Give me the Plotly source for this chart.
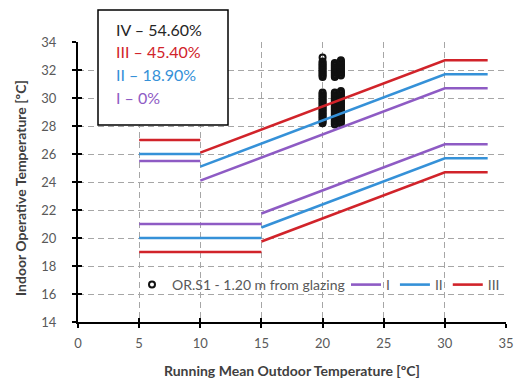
import plotly.graph_objects as go

# ---- data ----
categories = ["I", "II", "III"]
cat_colors = ["#8e5bc4", "#3591d8", "#d1232a"]

# upper limits
upper_flat_x = [5, 10]
upper_flat_y = [25.5, 26.0, 27.0]          # per category
upper_slope_x = [10, 30, 33.5]
upper_slope_y = [[24.1, 30.7, 30.7],
                 [25.1, 31.7, 31.7],
                 [26.1, 32.7, 32.7]]
# lower limits
lower_flat_x = [5, 15]
lower_flat_y = [21.0, 20.0, 19.0]
lower_slope_x = [15, 30, 33.5]
lower_slope_y = [[21.75, 26.7, 26.7],
                 [20.75, 25.7, 25.7],
                 [19.75, 24.7, 24.7]]

# measured points OR.S1 (running mean outdoor temp, indoor operative temp)
obs_x_20 = [20.0] * 36
obs_y_20 = [31.5, 31.6, 31.7, 31.8, 31.9, 32.0, 32.1, 32.2, 32.3, 32.4, 32.5, 32.6, 32.9,
            28.2, 28.3, 28.4, 28.5, 28.6, 28.7, 28.8, 28.9, 29.0, 29.1, 29.2, 29.3, 29.4,
            29.5, 29.6, 29.7, 29.8, 29.9, 30.0, 30.1, 30.2, 30.3, 30.4]
obs_x_21 = [21.0] * 35
obs_y_21 = [31.5, 31.6, 31.7, 31.8, 31.9, 32.0, 32.1, 32.2, 32.3, 32.4, 32.5,
            28.1, 28.2, 28.3, 28.4, 28.5, 28.6, 28.7, 28.8, 28.9, 29.0, 29.1, 29.2, 29.3,
            29.4, 29.5, 29.6, 29.7, 29.8, 29.9, 30.0, 30.1, 30.2, 30.3, 30.4]
obs_x_215 = [21.5] * 36
obs_y_215 = [31.6, 31.7, 31.8, 31.9, 32.0, 32.1, 32.2, 32.3, 32.4, 32.5, 32.6, 32.7,
             28.2, 28.3, 28.4, 28.5, 28.6, 28.7, 28.8, 28.9, 29.0, 29.1, 29.2, 29.3, 29.4,
             29.5, 29.6, 29.7, 29.8, 29.9, 30.0, 30.1, 30.2, 30.3, 30.4, 30.5]

box_labels = ["IV – 54.60%", "III – 45.40%", "II – 18.90%", "I – 0%"]
box_colors = ["#262626", "#d1232a", "#3591d8", "#8e5bc4"]

x_ticks = [0, 5, 10, 15, 20, 25, 30, 35]
y_ticks = [14, 16, 18, 20, 22, 24, 26, 28, 30, 32, 34]

x_title = "Running Mean Outdoor Temperature [ºC]"
y_title = "Indoor Operative Temperature [ºC]"

FONT = "Lato"
GRAY = "#595959"

W, H = 516, 383
ML, MR, MT, MB = 78, 10, 42, 61
PW = W - ML - MR   # 428
PH = H - MT - MB   # 280


def px(xw):  # pixel x -> paper x
    return (xw - ML) / PW


def py(yw):  # pixel y -> paper y
    return (H - MB - yw) / PH


fig = go.Figure()

fig.add_trace(go.Scatter(
    x=obs_x_20 + obs_x_21 + obs_x_215,
    y=obs_y_20 + obs_y_21 + obs_y_215,
    mode="markers",
    name="OR.S1 - 1.20 m from glazing",
    legend="legend",
    marker=dict(symbol="circle-open", size=6, color="#111111", line=dict(width=2, color="#111111")),
))

for i, cat in enumerate(categories):
    xs = (upper_flat_x + [None] + upper_slope_x + [None] +
          lower_flat_x + [None] + lower_slope_x)
    ys = ([upper_flat_y[i]] * 2 + [None] + upper_slope_y[i] + [None] +
          [lower_flat_y[i]] * 2 + [None] + lower_slope_y[i])
    fig.add_trace(go.Scatter(
        x=xs, y=ys, mode="lines", name=cat, connectgaps=False, legend="legend2",
        line=dict(color=cat_colors[i], width=2.6),
    ))

axis_common = dict(
    showline=True, linecolor="black", linewidth=2, automargin=False,
    ticks="outside", ticklen=4, tickwidth=1.5, tickcolor="black",
    showgrid=True, gridcolor="#a6a6a6", gridwidth=1.3, griddash="6px,4px",
    zeroline=False,
    tickfont=dict(family=FONT, size=13, color=GRAY),
)

legend_common = dict(orientation="h", yanchor="middle", xanchor="left",
                     bgcolor="rgba(0,0,0,0)", font=dict(family=FONT, size=14, color=GRAY),
                     itemwidth=30, tracegroupgap=0)

fig.update_layout(
    width=W, height=H, autosize=False,
    margin=dict(l=ML, r=MR, t=MT, b=MB, autoexpand=False),
    paper_bgcolor="white", plot_bgcolor="white",
    font=dict(family=FONT, color=GRAY),
    xaxis=dict(range=[0, 35], tickvals=x_ticks, ticklabelstandoff=4, **axis_common),
    yaxis=dict(range=[14, 34], tickvals=y_ticks, ticklabelstandoff=13, **axis_common),
    xaxis2=dict(range=[0, 35], overlaying="x", anchor="y", tickvals=x_ticks, automargin=False,
                ticks="inside", ticklen=4, tickwidth=1.5, tickcolor="black",
                showticklabels=False, showgrid=False, zeroline=False, showline=False),
    yaxis2=dict(range=[14, 34], overlaying="y", anchor="x", tickvals=y_ticks, automargin=False,
                ticks="inside", ticklen=4, tickwidth=1.5, tickcolor="black",
                showticklabels=False, showgrid=False, zeroline=False, showline=False),
    showlegend=True,
    legend=dict(x=px(132), y=py(285), **legend_common),
    legend2=dict(x=px(346), y=py(285), **legend_common),
)

# dummy trace so overlay axes (crossing ticks) render
fig.add_trace(go.Scatter(x=[None], y=[None], xaxis="x2", yaxis="y2", showlegend=False, hoverinfo="skip"))

# white panel behind the bottom legend
fig.add_shape(type="rect", xref="paper", yref="paper", x0=px(125), x1=px(503), y0=py(302), y1=py(270),
              line=dict(width=0), fillcolor="white", layer="between")

# axis titles
fig.add_annotation(xref="paper", yref="paper", x=0.5, y=py(370), xanchor="center", yanchor="middle",
                   showarrow=False, text="<b>" + x_title + "</b>",
                   font=dict(family=FONT, size=14, color="#404040"))
fig.add_annotation(xref="paper", yref="paper", x=px(21), y=py(188), xanchor="center", yanchor="middle",
                   showarrow=False, textangle=-90, text="<b>" + y_title + "</b>",
                   font=dict(family=FONT, size=14, color="#404040"))

# text box
fig.add_shape(type="rect", xref="paper", yref="paper", x0=px(98), x1=px(228), y0=py(125), y1=py(10),
              line=dict(color="black", width=1.5), fillcolor="white", layer="above")
line_px = [30, 51, 74, 97]
for lbl, col, pyy in zip(box_labels, box_colors, line_px):
    fig.add_annotation(xref="paper", yref="paper", x=px(114), y=py(pyy),
                       xanchor="left", yanchor="middle", showarrow=False, text=lbl,
                       font=dict(family=FONT, size=16, color=col))

fig.write_html("out.html", config={"displayModeBar": False},
               post_script="document.body.style.margin='0';document.body.style.overflow='hidden';")
